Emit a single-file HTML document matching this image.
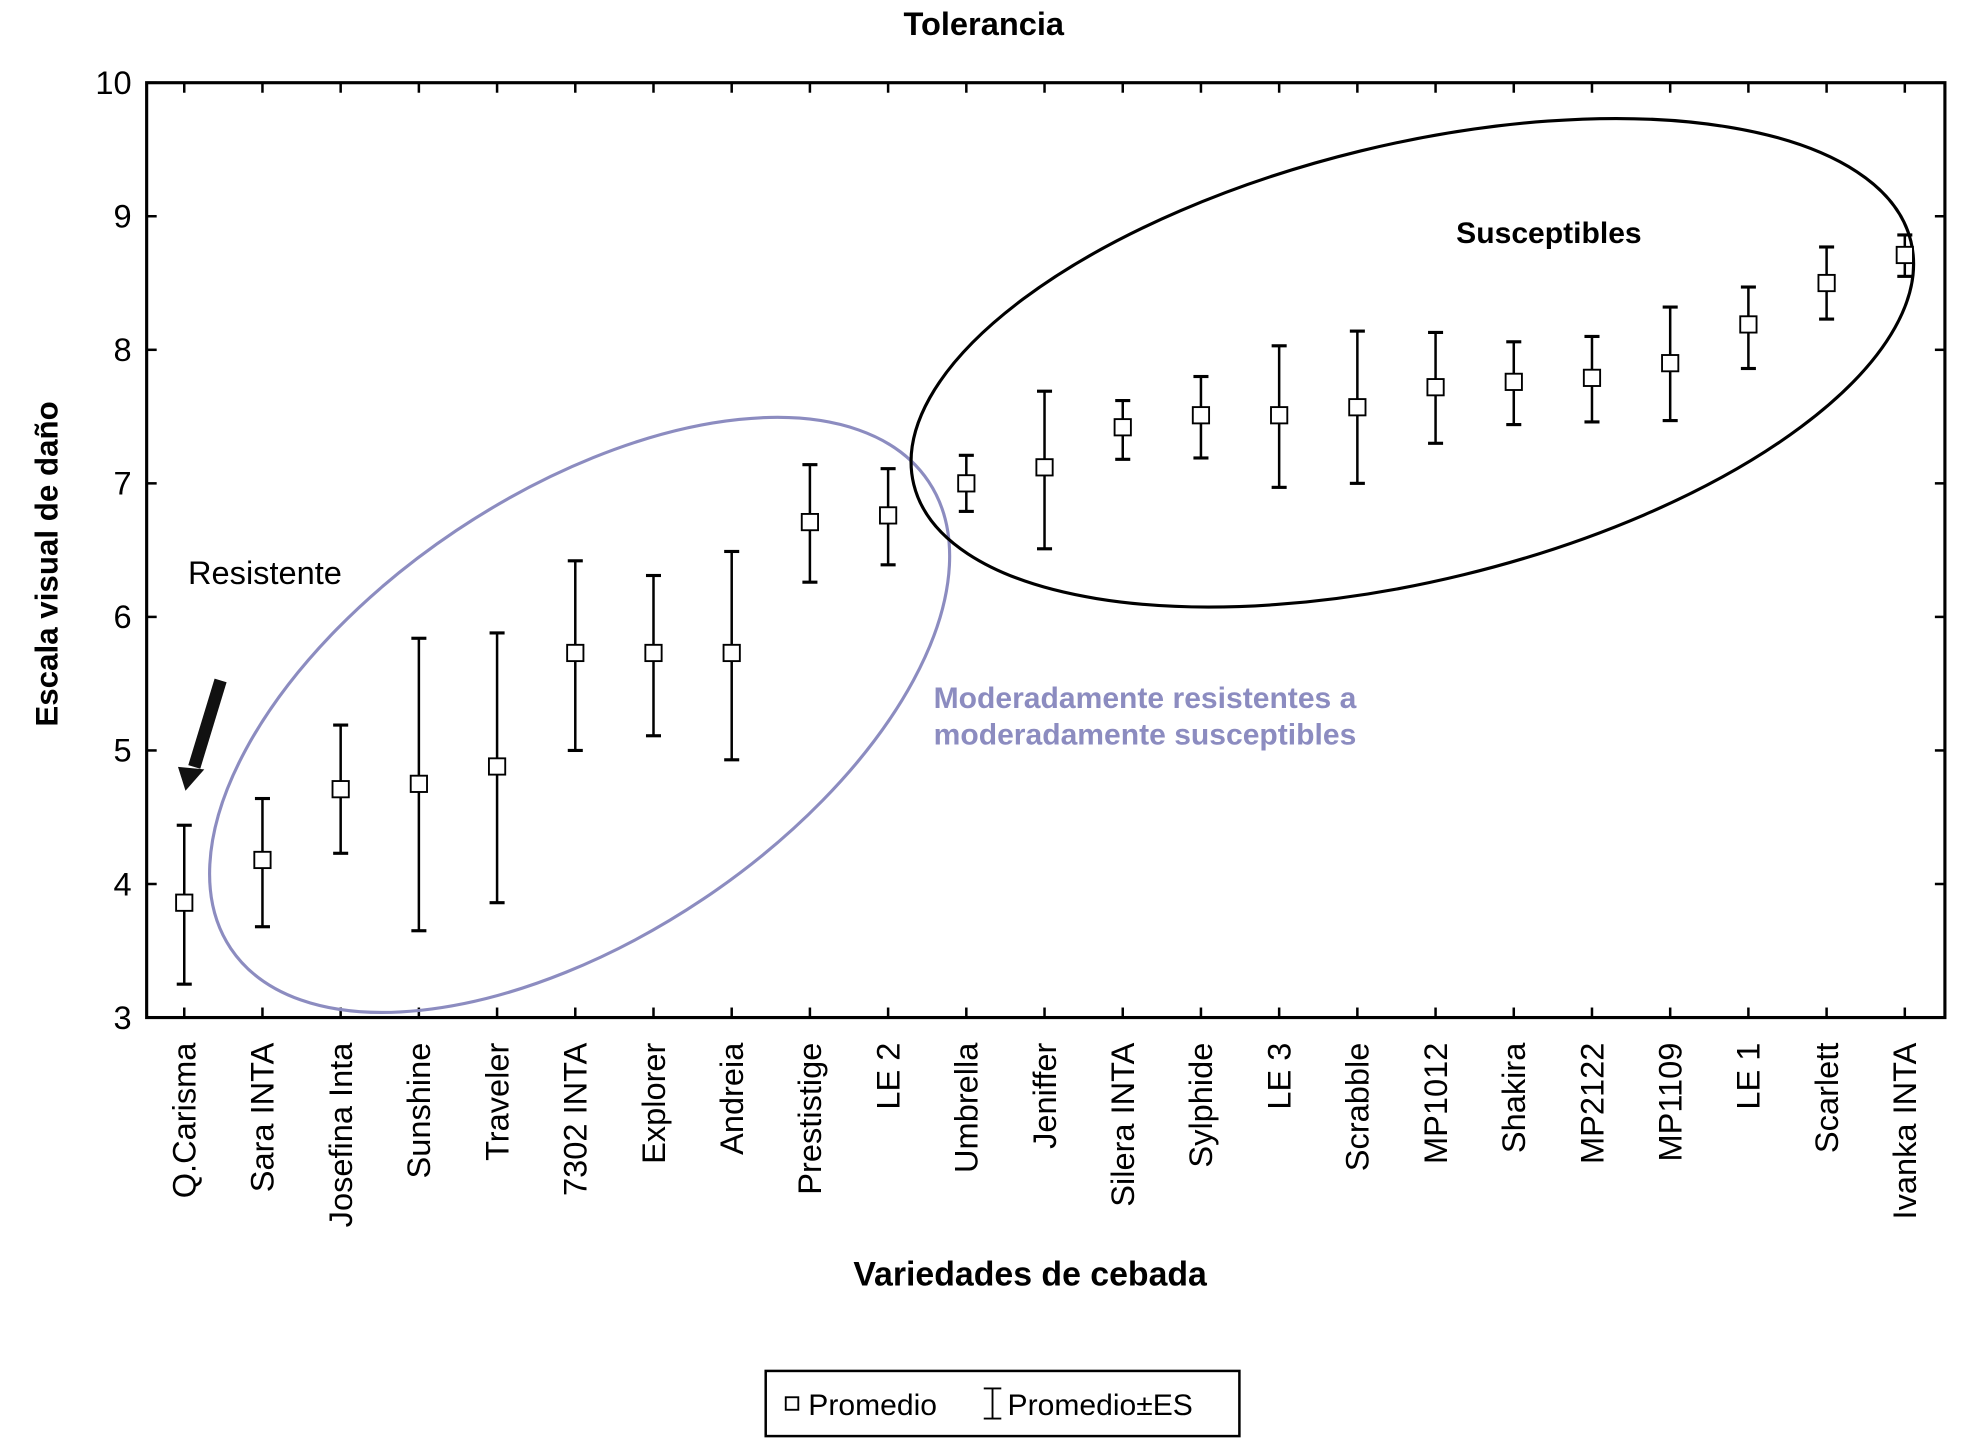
<!DOCTYPE html>
<html><head><meta charset="utf-8"><style>
html,body{margin:0;padding:0;background:#fff;}
svg{display:block;}
text{font-family:"Liberation Sans",sans-serif;}
.nar{font-family:"Liberation Sans Narrow","Liberation Sans",sans-serif;}
</style></head><body>
<svg id="chart" width="1965" height="1448" viewBox="0 0 1568 1155.5">
<rect width="1568" height="1156" fill="#fff"/>
<text class="nar" x="785" y="28" text-anchor="middle" font-size="26" font-weight="bold">Tolerancia</text>
<g id="axes"></g>
<ellipse cx="462.5" cy="570.5" rx="335" ry="177" transform="rotate(-33.8 462.5 570.5)" fill="none" stroke="#8c8cc0" stroke-width="2.5"/>
<ellipse cx="1127" cy="289.5" rx="409.5" ry="174" transform="rotate(-13.7 1127 289.5)" fill="none" stroke="#000" stroke-width="2.5"/>
<g id="marks"></g>
<text class="nar" x="150" y="466" font-size="26">Resistente</text>
<text class="nar" x="1162" y="194" font-size="24" font-weight="bold">Susceptibles</text>
<text class="nar" x="745" y="565" font-size="24" font-weight="bold" fill="#8c8cc0">Moderadamente resistentes a</text>
<text class="nar" x="745" y="594" font-size="24" font-weight="bold" fill="#8c8cc0">moderadamente susceptibles</text>
<g>
<line x1="176" y1="543" x2="155" y2="612" stroke="#111" stroke-width="10"/>
<polygon points="142,612 163,614 148,631" fill="#111"/>
</g>
<text x="46" y="450" transform="rotate(-90 46 450)" text-anchor="middle" font-size="25" font-weight="bold">Escala visual de daño</text>
<text class="nar" x="822" y="1026" text-anchor="middle" font-size="27" font-weight="bold">Variedades de cebada</text>
<g>
<rect x="611" y="1094" width="378" height="52" fill="#fff" stroke="#000" stroke-width="2"/>
<rect x="627" y="1115" width="10" height="10" fill="#fff" stroke="#000" stroke-width="1.5"/>
<text class="nar" x="645" y="1129" font-size="24">Promedio</text>
<path d="M785 1108h14M792 1108v24M785 1132h14" stroke="#000" stroke-width="1.5" fill="none"/>
<text class="nar" x="804" y="1129" font-size="24">Promedio±ES</text>
</g>
</svg>
<script>
const categories=["Q.Carisma","Sara INTA","Josefina Inta","Sunshine","Traveler","7302 INTA","Explorer","Andreia","Prestistige","LE 2","Umbrella","Jeniffer","Silera INTA","Sylphide","LE 3","Scrabble","MP1012","Shakira","MP2122","MP1109","LE 1","Scarlett","Ivanka INTA"];
const means=[3.86,4.18,4.71,4.75,4.88,5.73,5.73,5.73,6.71,6.76,7.0,7.12,7.42,7.51,7.51,7.57,7.72,7.76,7.79,7.90,8.19,8.50,8.71];
const upper=[4.44,4.64,5.19,5.84,5.88,6.42,6.31,6.49,7.14,7.11,7.21,7.69,7.62,7.80,8.03,8.14,8.13,8.06,8.10,8.32,8.47,8.77,8.86];
const lower=[3.25,3.68,4.23,3.65,3.86,5.00,5.11,4.93,6.26,6.39,6.79,6.51,7.18,7.19,6.97,7.00,7.30,7.44,7.46,7.47,7.86,8.23,8.55];
const yTicks=[3,4,5,6,7,8,9,10];
const NS="http://www.w3.org/2000/svg";
const L=117,R=1552,T=66,B=812,yMin=3,yMax=10;
const x0=147,x1=1520;
function xs(i){return x0+i*(x1-x0)/(categories.length-1);}
function ys(v){return B-(v-yMin)/(yMax-yMin)*(B-T);}
function mk(tag,attrs,parent){const e=document.createElementNS(NS,tag);for(const k in attrs)e.setAttribute(k,attrs[k]);parent.appendChild(e);return e;}
const ax=document.getElementById('axes');
const frame=mk('rect',{x:L,y:T,width:R-L,height:B-T,fill:'none',stroke:'#000','stroke-width':2.5},ax);


yTicks.forEach(v=>{
  const y=ys(v);
  mk('line',{x1:L,x2:L+8,y1:y,y2:y,stroke:'#000','stroke-width':2},ax);
  mk('line',{x1:R-8,x2:R,y1:y,y2:y,stroke:'#000','stroke-width':2},ax);
  const t=mk('text',{x:L-12,y:y+9,'text-anchor':'end','font-size':26,class:'nar'},ax);
  t.textContent=v;
  
  
});
const mg=document.getElementById('marks');
categories.forEach((c,i)=>{
  const x=xs(i);
  mk('line',{x1:x,x2:x,y1:B,y2:B-8,stroke:'#000','stroke-width':2},ax);
  mk('line',{x1:x,x2:x,y1:T,y2:T+8,stroke:'#000','stroke-width':2},ax);
  const t=mk('text',{x:0,y:0,transform:`translate(${x+9},832) rotate(-90)`,'text-anchor':'end','font-size':26},ax);
  t.textContent=c;
  
  
  const g=mk('g',{},mg);
  
  
  const yu=ys(upper[i]),yl=ys(lower[i]),ym=ys(means[i]);
  mk('line',{x1:x,x2:x,y1:yu,y2:yl,stroke:'#000','stroke-width':2},g);
  mk('line',{x1:x-6,x2:x+6,y1:yu,y2:yu,stroke:'#000','stroke-width':2.5},g);
  mk('line',{x1:x-6,x2:x+6,y1:yl,y2:yl,stroke:'#000','stroke-width':2.5},g);
  const r=mk('rect',{x:x-6.5,y:ym-6.5,width:13,height:13,fill:'#fff',stroke:'#000','stroke-width':1.5},g);
  
  
});
</script>
</body></html>
